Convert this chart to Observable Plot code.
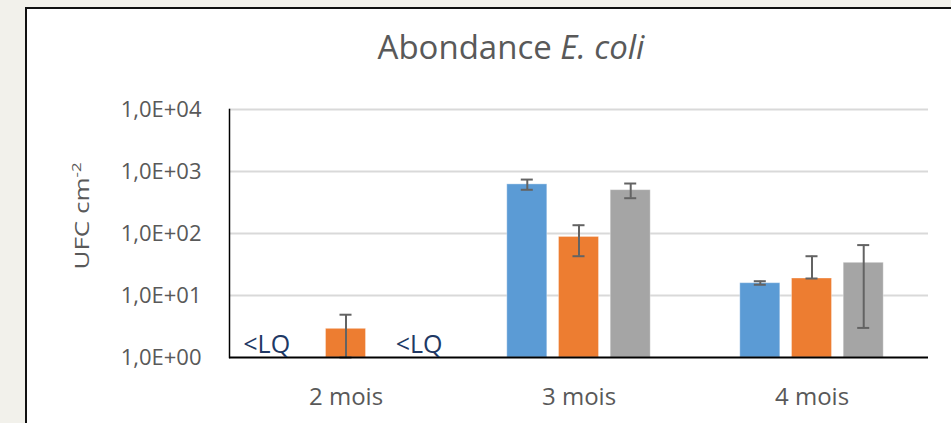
<!DOCTYPE html>
<html>
<head>
<meta charset="utf-8">
<script src="https://cdn.jsdelivr.net/npm/d3@7"></script>
<script src="https://cdn.jsdelivr.net/npm/@observablehq/plot@0.6"></script>
<style>
  html, body { margin: 0; padding: 0; overflow: hidden; }
  body { width: 951px; height: 423px; background: #f2f1eb; position: relative; font-family: "Open Sans", sans-serif; }
  #box { position: absolute; left: 25px; top: 7px; right: 0; bottom: 0; background: #fff; border-left: 2px solid #111; border-top: 2px solid #111; }
  #chart { position: absolute; left: 0; top: 0; }
  #title { position: absolute; left: 311px; width: 400px; top: 30px; text-align: center; font-size: 33px; line-height: 1; color: #595959; white-space: nowrap; }
  #ytitle { position: absolute; left: 82px; top: 216px; transform: translate(-50%, -50%) rotate(-90deg) scaleX(1.3); font-size: 20px; line-height: 1; color: #595959; white-space: nowrap; }
  #ytitle sup { font-size: 0.65em; line-height: 0; vertical-align: 0.6em; }
</style>
</head>
<body>
<div id="box"></div>
<div id="chart"></div>
<div id="title">Abondance <i>E. coli</i></div>
<div id="ytitle">UFC cm<sup>-2</sup></div>
<script>
// Categories and series
const months = ["2 mois", "3 mois", "4 mois"];
const seriesNames = ["Série 1", "Série 2", "Série 3"];
const seriesColors = ["#5b9bd5", "#ed7d31", "#a5a5a5"];

// Mean values (UFC cm-2), null = below limit of quantification (<LQ)
const serie1 = [null, 620, 15.8];
const serie2 = [2.9, 88, 18.8];
const serie3 = [null, 500, 33.7];

// Error bar limits (low / high)
const serie1Low = [null, 507, 14.9];
const serie1High = [null, 741, 17];
const serie2Low = [1, 43, 18.8];
const serie2High = [4.9, 136, 43];
const serie3Low = [null, 371, 3.0];
const serie3High = [null, 640, 65];

// Y tick values
const yTicks = [1, 10, 100, 1000, 10000];
const yTickLabels = ["1,0E+00", "1,0E+01", "1,0E+02", "1,0E+03", "1,0E+04"];

const lqLabel = "<LQ";

const allValues = [serie1, serie2, serie3];
const allLow = [serie1Low, serie2Low, serie3Low];
const allHigh = [serie1High, serie2High, serie3High];

const data = [];
const lq = [];
seriesNames.forEach((s, si) => {
  months.forEach((m, mi) => {
    const v = allValues[si][mi];
    if (v == null) lq.push({month: m, series: s});
    else data.push({month: m, series: s, value: v, lo: allLow[si][mi], hi: allHigh[si][mi]});
  });
});

const chart = Plot.plot({
  width: 951,
  height: 423,
  marginLeft: 229,
  marginRight: 23,
  marginTop: 109,
  marginBottom: 66,
  style: {fontFamily: "Open Sans", background: "transparent", color: "#595959", overflow: "hidden"},
  fx: {domain: months, padding: 0, round: false, label: null},
  x: {domain: seriesNames, paddingInner: 0.226, paddingOuter: 0.866, round: false, axis: null},
  y: {type: "log", domain: [1, 10000], label: null},
  color: {domain: seriesNames, range: seriesColors},
  marks: [
    Plot.gridY(yTicks.slice(1), {stroke: "#d9d9d9", strokeOpacity: 1, strokeWidth: 2}),
    Plot.axisY(yTicks, {tickSize: 0, tickPadding: 28, tickFormat: d => yTickLabels[yTicks.indexOf(d)], fontSize: 22, fill: "#595959", label: null}),
    Plot.axisFx({anchor: "bottom", tickSize: 0, tickPadding: 30, fontSize: 24, fill: "#595959", label: null}),
    Plot.barY(data, {fx: "month", x: "series", y1: 1, y2: "value", fill: "series", stroke: "#fff", strokeOpacity: 0.35, strokeWidth: 1}),
    Plot.ruleX(data, {fx: "month", x: "series", y1: "lo", y2: "hi", stroke: "#636363", strokeWidth: 2}),
    Plot.tickY(data, {fx: "month", x: "series", y: "lo", stroke: "#636363", strokeWidth: 2, insetLeft: 14, insetRight: 14}),
    Plot.tickY(data, {fx: "month", x: "series", y: "hi", stroke: "#636363", strokeWidth: 2, insetLeft: 14, insetRight: 14}),
    Plot.frame({anchor: "left", facetAnchor: "left", stroke: "#000", strokeWidth: 1.5}),
    Plot.ruleY([1], {stroke: "#000", strokeWidth: 2}),
    Plot.text(lq.filter(d => d.series === seriesNames[0]), {fx: "month", x: "series", y: 1, text: () => lqLabel, textAnchor: "start", dx: -51, dy: -13, fill: "#203864", fontSize: 25}),
    Plot.text(lq.filter(d => d.series === seriesNames[2]), {fx: "month", x: "series", y: 1, text: () => lqLabel, textAnchor: "start", dx: -2, dy: -13, fill: "#203864", fontSize: 25})
  ]
});
document.getElementById("chart").appendChild(chart);
</script>
</body>
</html>
